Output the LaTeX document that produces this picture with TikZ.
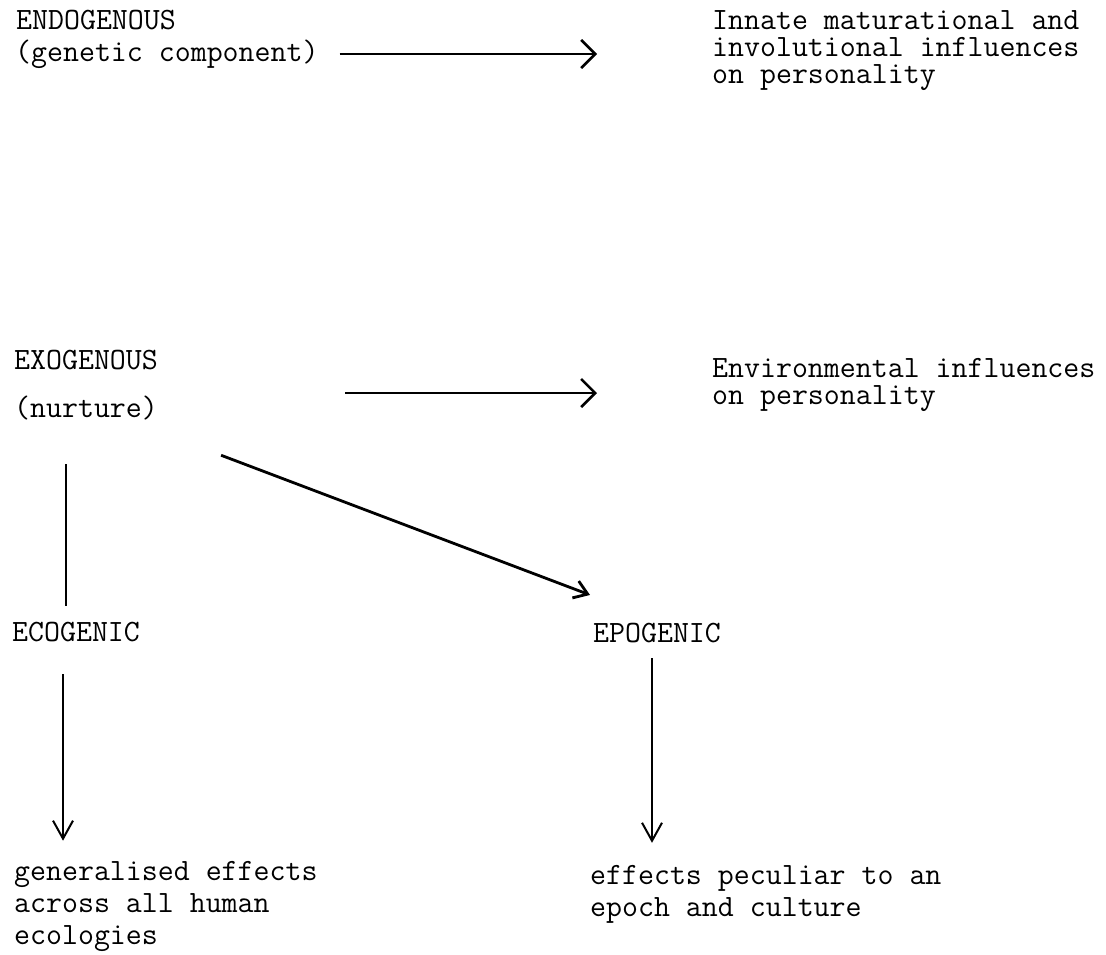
\documentclass[tikz,border=0pt]{standalone}
\usepackage{fontspec}
\usetikzlibrary{arrows.meta,calc}

\tikzset{
	typed/.style = {anchor = west, inner sep = 0pt, align = left, font = \fontsize{31}{27}\selectfont\ttfamily},
	wide/.style = {font = \fontsize{31}{32}\selectfont\ttfamily},
	barb/.style = {-{Straight Barb[length = 14pt, width = 28pt]}, line width = 2.6pt},
	slant/.style = {-{Straight Barb[length = 13pt, width = 18pt]}, line width = 2.8pt},
	drop/.style = {-{Straight Barb[length = 18pt, width = 20pt]}, line width = 2pt},
	rule/.style = {line width = 2pt}
}

\begin{document}
\begin{tikzpicture}[x = 1pt, y = -1pt]
					\useasboundingbox (0,0) rectangle (1106,954);
					% first row
					\node[typed] (endo) at (16,20) {ENDOGENOUS};
					\node[typed] (gene) at (15,54) {(genetic component)};
					\node[typed] (innate) at (712,51) {Innate maturational and\\involutional influences\\on personality};
					\draw[barb, shorten <= 21pt, shorten >= 115pt] (gene.east) -- (gene.east -| innate.west);
					% second row
					\node[typed] (exo) at (14,360) {EXOGENOUS};
					\node[typed] (nurt) at (14,408) {(nurture)};
					\node[typed] (envir) at (712,385) {Environmental influences\\on personality};
					\draw[barb, shorten <= 187pt, shorten >= 115pt] ($(nurt.east)+(0,-15)$) -- ($(nurt.east -| envir.west)+(0,-15)$);
					% the two branches
					\node[typed] (eco) at (12,632) {ECOGENIC};
					\node[typed] (epo) at (593,633) {EPOGENIC};
					\draw[rule, shorten <= 44pt, shorten >= 16pt] ($(nurt.south west)+(52,0)$) -- ($(eco.north west)+(54,0)$);
					\draw[slant] ($(nurt.south east)+(63,35)$) -- ($(epo.north west)+(-3,-28)$);
					% effects
					\node[typed, wide] (geneff) at (14,906) {generalised effects\\across all human\\ecologies};
					\node[typed, wide] (epoeff) at (590,894) {effects peculiar to an\\epoch and culture};
					\draw[drop] ($(eco.south west)+(51,32)$) -- ($(geneff.north west)+(49,-20)$);
					\draw[drop] ($(epo.south west)+(59,15)$) -- ($(epoeff.north west)+(62,-22)$);
				\end{tikzpicture}
\end{document}
